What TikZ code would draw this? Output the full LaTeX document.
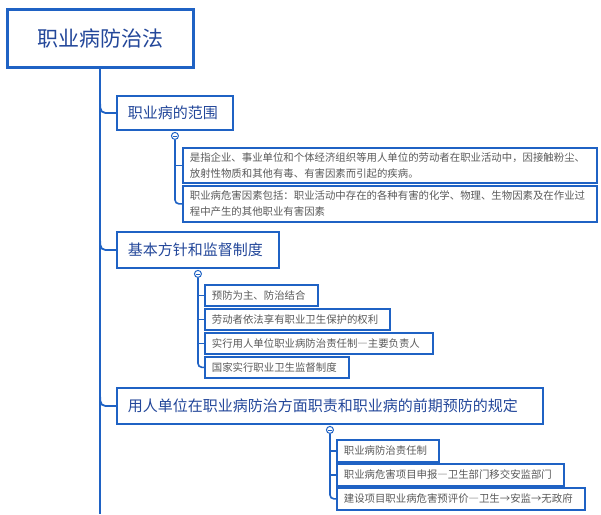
\documentclass[tikz,border=0pt]{standalone}
\usepackage{fontspec}
\setmainfont{Noto Sans CJK SC}
\usetikzlibrary{calc}
\definecolor{lineblue}{HTML}{1F62C4}
\definecolor{titleblue}{HTML}{23479A}
\definecolor{childgray}{HTML}{5A5A5A}
\newcommand{\fwdash}{{\addfontfeatures{CharacterWidth=Full}—}}
\newcommand{\fwarrow}{{\addfontfeatures{CharacterWidth=Full}→}}
\tikzset{
  rootbox/.style={draw=lineblue, line width=2.6pt, fill=white, anchor=north west, inner sep=0pt,
    font=\fontsize{21}{24}\selectfont, text=titleblue, align=center},
  mainbox/.style={draw=lineblue, line width=1.9pt, fill=white, anchor=north west, inner xsep=11pt, inner ysep=0pt,
    font=\fontsize{15}{18}\selectfont, text=titleblue, align=left},
  childbox/.style={draw=lineblue, line width=1.7pt, fill=white, anchor=north west, inner xsep=7pt, inner ysep=0pt,
    font=\fontsize{10.4}{16}\selectfont, text=childgray, align=left},
  conn/.style={draw=lineblue, line width=1.8pt, rounded corners=5pt},
  subconn/.style={draw=lineblue, line width=1.6pt, rounded corners=4pt},
  knob/.style={circle, draw=lineblue, line width=1pt, fill=white, minimum size=7pt, inner sep=0pt,
    path picture={\draw[lineblue, line width=0.8pt] ([xshift=-2pt]path picture bounding box.center) -- ([xshift=2pt]path picture bounding box.center);}}
}
\begin{document}
\begin{tikzpicture}[x=1pt,y=-1pt]
\useasboundingbox (0,0) rectangle (601,514);
% root
\node[rootbox, minimum width=186pt, minimum height=58pt] (root) at (6,8) {职业病防治法};
\coordinate (trunkend) at (root.south |- 0,514);
\draw[lineblue, line width=1.8pt] (root.south) -- (trunkend);

% main nodes
\node[mainbox, minimum width=116pt, minimum height=34pt, text width=94pt] (n1) at (116,95) {职业病的范围};
\node[mainbox, minimum width=162pt, minimum height=36pt, text width=140pt] (n2) at (116,231) {基本方针和监督制度};
\node[mainbox, minimum width=426pt, minimum height=36pt, text width=404pt] (n3) at (116,387) {用人单位在职业病防治方面职责和职业病的前期预防的规定};

\foreach \n in {n1,n2,n3}{
  \draw[conn] ($(root.south |- \n.west)+(0,-9)$) -- (root.south |- \n.west) -- (\n.west);
}

% children of n1
\node[childbox, minimum width=414pt, minimum height=35pt, text width=400pt] (a1) at (182,147) {是指企业、事业单位和个体经济组织等用人单位的劳动者在职业活动中，因接触粉尘、\\放射性物质和其他有毒、有害因素而引起的疾病。};
\node[childbox, minimum width=414pt, minimum height=36pt, text width=400pt] (a2) at (182,185) {职业病危害因素包括：职业活动中存在的各种有害的化学、物理、生物因素及在作业过\\程中产生的其他职业有害因素};

% children of n2
\node[childbox, minimum width=113pt, minimum height=21pt, text width=99pt] (b1) at (204,284) {预防为主、防治结合};
\node[childbox, minimum width=185pt, minimum height=21pt, text width=171pt] (b2) at (204,308) {劳动者依法享有职业卫生保护的权利};
\node[childbox, minimum width=228pt, minimum height=21pt, text width=214pt] (b3) at (204,332) {实行用人单位职业病防治责任制\fwdash 主要负责人};
\node[childbox, minimum width=144pt, minimum height=21pt, text width=130pt] (b4) at (204,356) {国家实行职业卫生监督制度};

% children of n3
\node[childbox, minimum width=102pt, minimum height=22pt, text width=88pt] (c1) at (336,439) {职业病防治责任制};
\node[childbox, minimum width=227pt, minimum height=22pt, text width=213pt] (c2) at (336,463) {职业病危害项目申报\fwdash 卫生部门移交安监部门};
\node[childbox, minimum width=248pt, minimum height=22pt, text width=234pt] (c3) at (336,487) {建设项目职业病危害预评价\fwdash 卫生\fwarrow 安监\fwarrow 无政府};

% knobs
\node[knob] (k1) at ($(n1.south)+(0,5)$) {};
\node[knob] (k2) at ($(n2.south)+(0,5)$) {};
\node[knob] (k3) at ($(n3.south)+(0,5)$) {};

% sub connectors
\draw[subconn] (k1.south) -- (k1.south |- a2.west) -- (a2.west);
\draw[subconn, rounded corners=0pt] (k1.south |- a1.west) -- (a1.west);

\draw[subconn] (k2.south) -- (k2.south |- b4.west) -- (b4.west);
\foreach \c in {b1,b2,b3}{\draw[subconn, rounded corners=0pt] (k2.south |- \c.west) -- (\c.west);}

\draw[subconn] (k3.south) -- (k3.south |- c3.west) -- (c3.west);
\foreach \c in {c1,c2}{\draw[subconn, rounded corners=0pt] (k3.south |- \c.west) -- (\c.west);}
\end{tikzpicture}
\end{document}
